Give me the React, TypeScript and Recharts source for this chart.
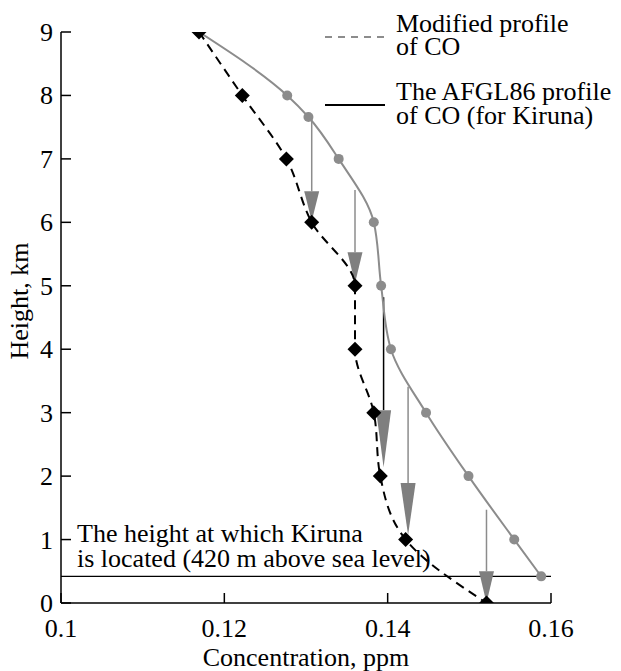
import React from 'react';
import { ScatterChart, Scatter, XAxis, YAxis, ReferenceLine } from 'recharts';

// Modified profile of CO (black diamonds, dashed)
const MOD_HEIGHTS = [9, 8, 7, 6, 5, 4, 3, 2, 1, 0];
const MOD_CONC = [0.1169, 0.1222, 0.1276, 0.1307, 0.136, 0.136, 0.1383, 0.1391, 0.1422, 0.1521];

// AFGL86 profile of CO for Kiruna (gray circles, solid)
const AFGL_HEIGHTS = [9, 8, 7.66, 7, 6, 5, 4, 3, 2, 1, 0.42];
const AFGL_CONC = [0.1169, 0.1277, 0.1303, 0.134, 0.1383, 0.1392, 0.1404, 0.1447, 0.1499, 0.1555, 0.1588];

// Arrows from the AFGL86 curve to the modified profile
const ARROW_CONC = [0.1307, 0.136, 0.1395, 0.1425, 0.1521];
const ARROW_FROM = [7.66, 6.51, 4.82, 3.41, 1.47];
const ARROW_HEAD_BASE = [6.49, 5.53, 3.04, 1.89, 0.5];
const ARROW_TIP = [6.02, 5.04, 2.14, 1.07, 0.0];
const ARROW_SHAFT_COLORS = ['#8c8c8c', '#8c8c8c', '#000000', '#8c8c8c', '#8c8c8c'];

const KIRUNA_HEIGHT = 0.42;
const X_TICKS = [0.1, 0.12, 0.14, 0.16];
const Y_TICKS = [0, 1, 2, 3, 4, 5, 6, 7, 8, 9];

const modData = MOD_HEIGHTS.map((h, i) => ({ c: MOD_CONC[i], h }));
const afglData = AFGL_HEIGHTS.map((h, i) => ({ c: AFGL_CONC[i], h }));

const FONT = 'Liberation Serif, Times New Roman, DejaVu Serif, serif';
const GRAY = '#8c8c8c';
const TXT: React.CSSProperties = { fontFamily: FONT, fontSize: 26 };

const Diamond = (p: any) => {
  const { cx, cy } = p;
  const r = 7.5;
  return <polygon points={`${cx},${cy - r} ${cx + r},${cy} ${cx},${cy + r} ${cx - r},${cy}`} fill="#000" />;
};

const Dot = (p: any) => <circle cx={p.cx} cy={p.cy} r={5} fill={GRAY} />;

const YTick = (p: any) => (
  <text x={p.x} y={p.y} dy={9} textAnchor="end" style={TXT} fill="#000">
    {p.payload.value}
  </text>
);

const XTick = (p: any) => (
  <text x={p.x} y={p.y} dy={26} textAnchor="middle" style={TXT} fill="#000">
    {p.payload.value}
  </text>
);

const ArrowHead = (p: any) => {
  const { x1, y1, x2, y2 } = p;
  return <polygon points={`${x1 - 7.5},${y1} ${x1 + 7.5},${y1} ${x2},${y2}`} fill="#7f7f7f" />;
};

export default function App() {
  return (
    <div style={{ position: 'absolute', left: 0, top: 0, width: 621, height: 671, background: '#fff' }}>
      <ScatterChart width={621} height={671} margin={{ top: 32, right: 70, bottom: 8, left: 11 }}>
        <XAxis
          type="number"
          dataKey="c"
          domain={[0.1, 0.16]}
          ticks={X_TICKS}
          allowDataOverflow
          height={60}
          stroke="#000"
          strokeWidth={1.5}
          tickSize={-10}
          tickMargin={18}
          tick={<XTick />}
          tickLine={{ stroke: '#000', strokeWidth: 1.5 }}
        />
        <YAxis
          type="number"
          dataKey="h"
          domain={[0, 9]}
          ticks={Y_TICKS}
          allowDataOverflow
          width={50}
          stroke="#000"
          strokeWidth={1.5}
          tickSize={-10}
          tickMargin={18}
          tick={<YTick />}
          tickLine={{ stroke: '#000', strokeWidth: 1.5 }}
        />
        <ReferenceLine y={KIRUNA_HEIGHT} stroke="#000" strokeWidth={1.3} ifOverflow="visible" />
        <Scatter
          data={afglData}
          fill={GRAY}
          line={{ stroke: GRAY, strokeWidth: 2 }}
          lineJointType="monotoneY"
          shape={Dot}
          isAnimationActive={false}
        />
        {ARROW_CONC.map((c, i) => (
          <ReferenceLine
            key={`s${i}`}
            segment={[{ x: c, y: ARROW_FROM[i] }, { x: c, y: ARROW_HEAD_BASE[i] }]}
            stroke={ARROW_SHAFT_COLORS[i]}
            strokeWidth={1.5}
            ifOverflow="visible"
          />
        ))}
        {ARROW_CONC.map((c, i) => (
          <ReferenceLine
            key={`h${i}`}
            segment={[{ x: c, y: ARROW_HEAD_BASE[i] }, { x: c, y: ARROW_TIP[i] }]}
            shape={ArrowHead}
            ifOverflow="visible"
          />
        ))}
        <Scatter
          data={modData}
          fill="#000"
          line={{ stroke: '#000', strokeWidth: 2, strokeDasharray: '9 6' }}
          lineJointType="monotoneY"
          shape={Diamond}
          isAnimationActive={false}
        />
      </ScatterChart>
      <svg
        width={621}
        height={671}
        style={{ position: 'absolute', left: 0, top: 0, pointerEvents: 'none', ...TXT }}
      >
        <line x1={325} y1={37} x2={385} y2={37} stroke={GRAY} strokeWidth={2} strokeDasharray="7 6" />
        <text x={396} y={32} fill="#000" style={TXT}>Modified profile</text>
        <text x={396} y={55} fill="#000" style={TXT}>of CO</text>
        <line x1={325} y1={105} x2={385} y2={105} stroke="#000" strokeWidth={2} />
        <text x={396} y={100} fill="#000" style={TXT}>The AFGL86 profile</text>
        <text x={396} y={124} fill="#000" style={TXT}>of CO (for Kiruna)</text>
        <text x={77} y={542} fill="#000" style={TXT}>The height at which Kiruna</text>
        <text x={77} y={567} fill="#000" style={TXT}>is located (420 m above sea level)</text>
        <text x={306} y={666} textAnchor="middle" fill="#000" style={TXT}>Concentration, ppm</text>
        <text x={28} y={301} textAnchor="middle" fill="#000" style={TXT} transform="rotate(-90 28 301)">Height, km</text>
      </svg>
    </div>
  );
}
